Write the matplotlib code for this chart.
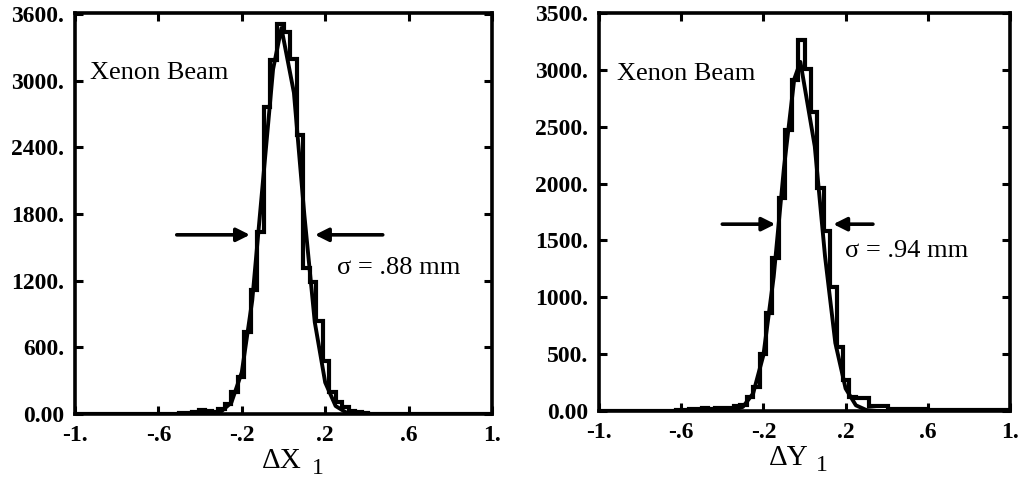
import numpy as np
import matplotlib
matplotlib.use("Agg")
import matplotlib.pyplot as plt

plt.rcParams['font.family'] = ['Liberation Serif', 'DejaVu Serif']

# histogram counts, 64 bins of width 1/32 across [-1, 1]
counts_x = [0, 0, 0, 0, 0, 0, 0, 0, 0, 0, 0, 0, 0, 0, 0, 0,
            5, 10, 20, 40, 25, 20, 45, 90, 200, 330, 740, 1120, 1640, 2760, 3190, 3510,
            3440, 3200, 2510, 1310, 1190, 840, 480, 200, 110, 60, 30, 15, 5, 0, 0, 0,
            0, 0, 0, 0, 0, 0, 0, 0, 0, 0, 0, 0, 0, 0, 0, 0]
counts_y = [0, 0, 0, 0, 0, 0, 0, 0, 0, 0, 0, 0, 5, 10, 15, 20,
            25, 20, 25, 30, 30, 40, 55, 120, 210, 500, 865, 1346, 1870, 2470, 2910, 3260,
            3010, 2630, 1960, 1580, 1090, 560, 270, 120, 110, 110, 45, 45, 45, 20, 20, 20,
            20, 20, 20, 8, 8, 8, 8, 8, 8, 8, 8, 8, 8, 8, 8, 8]

# gaussian fit curves
fit_x_left = [-0.45, -0.40, -0.35, -0.30, -0.25, -0.20, -0.15, -0.10, -0.05, -0.01,
              0.05, 0.10, 0.15, 0.20, 0.25, 0.30, 0.35, 0.40]
fit_y_left = [0, 1, 3, 21, 103, 376, 1022, 2065, 3104, 3475, 2892, 1792, 827, 284, 72, 14, 2, 0]
fit_x_right = [-0.45, -0.40, -0.35, -0.30, -0.25, -0.20, -0.15, -0.10, -0.05, -0.02,
               0.05, 0.10, 0.15, 0.20, 0.25, 0.30, 0.35, 0.40]
fit_y_right = [0, 1, 6, 36, 154, 491, 1180, 2138, 2918, 3070, 2327, 1359, 598, 198, 50, 9, 1, 0]

xticks = [-1, -0.6, -0.2, 0.2, 0.6, 1]
xticklabels = ['-1.', '-.6', '-.2', '.2', '.6', '1.']
yticks_left = [0, 600, 1200, 1800, 2400, 3000, 3600]
yticklabels_left = ['0.00', '600.', '1200.', '1800.', '2400.', '3000.', '3600.']
yticks_right = [0, 500, 1000, 1500, 2000, 2500, 3000, 3500]
yticklabels_right = ['0.00', '500.', '1000.', '1500.', '2000.', '2500.', '3000.', '3500.']

edges = np.linspace(-1, 1, 65)

fig = plt.figure(figsize=(10.2, 4.79), dpi=100)
ax1 = fig.add_axes([75 / 1020, 1 - 414 / 479, 417 / 1020, 401 / 479])
ax2 = fig.add_axes([599 / 1020, 1 - 411 / 479, 411 / 1020, 398 / 479])

panels = [
    (ax1, counts_x, fit_x_left, fit_y_left, yticks_left, yticklabels_left, 3610,
     '\u03c3 = .88 mm', (0.257, 1261), (-0.928, 3015),
     [(-0.512, -0.161), (0.476, 0.151)], 1613, 'X'),
    (ax2, counts_y, fit_x_right, fit_y_right, yticks_right, yticklabels_right, 3500,
     '\u03c3 = .94 mm', (0.198, 1356), (-0.914, 2915),
     [(-0.400, -0.142), (0.333, 0.140)], 1643, 'Y'),
]

for ax, counts, fx, fy, yt, ytl, ytop, sig, sig_pos, xe_pos, arrows, ay, var in panels:
    ax.stairs(counts, edges, color='black', lw=3.0)
    ax.plot(fx, fy, color='black', lw=2.8)
    ax.set_xlim(-1, 1)
    ax.set_ylim(0, ytop)
    ax.set_xticks(xticks)
    ax.set_xticklabels(xticklabels)
    ax.set_yticks(yt)
    ax.set_yticklabels(ytl)
    ax.tick_params(direction='in', top=True, right=True, length=6, width=2.2,
                   labelsize=17, pad=8)
    for lab in ax.get_xticklabels() + ax.get_yticklabels():
        lab.set_fontweight('bold')
    for s in ax.spines.values():
        s.set_linewidth(2.6)

    ax.text(xe_pos[0], xe_pos[1], 'Xenon Beam', fontsize=19, va='baseline', ha='left')
    ax.text(sig_pos[0], sig_pos[1], sig, fontsize=19, va='baseline', ha='left')
    for tail, tip in arrows:
        ax.annotate('', xy=(tip, ay), xytext=(tail, ay),
                    arrowprops=dict(arrowstyle='-|>', color='black', lw=2.6,
                                    mutation_scale=20, shrinkA=0, shrinkB=0))

    cx = 0.496 if var == 'X' else 0.461
    sx = 0.583 if var == 'X' else 0.543
    ax.text(cx, -0.135, '\u0394' + var, transform=ax.transAxes, fontsize=21,
            ha='center', va='baseline')
    ax.text(sx, -0.150, '1', transform=ax.transAxes, fontsize=17,
            ha='center', va='baseline')

fig.savefig('out.png', dpi=100)
